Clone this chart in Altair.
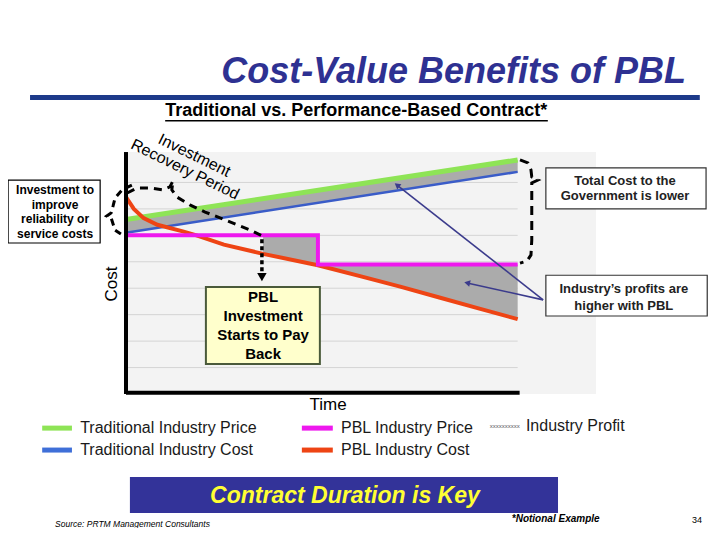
import altair as alt
import pandas as pd

FONT = "Liberation Sans"

# ---------------- data (time units 0..10, cost units 0..9) ----------------
trad_time = [0, 10]
trad_price = [6.6, 8.85]
trad_cost = [6.1, 8.4]

pbl_price_time = [0, 4.9, 4.9, 10]
pbl_price = [6.0, 6.0, 4.9, 4.9]

pbl_cost_time = [0, 0.2, 0.45, 0.8, 1.45, 1.8, 2.5, 3.5, 4.9, 6, 7, 8, 9, 10]
pbl_cost = [7.45, 7.0, 6.65, 6.4, 6.15, 6.0, 5.65, 5.3, 4.87, 4.45, 4.06, 3.65, 3.24, 2.83]

# industry profit band under the PBL contract
band_time = [3.5, 4.9, 4.92, 6, 7, 8, 9, 10]
band_top = [6.0, 6.0, 4.9, 4.9, 4.9, 4.9, 4.9, 4.9]
band_bottom = [5.3, 4.87, 4.86, 4.45, 4.06, 3.65, 3.24, 2.83]

grid_levels = [1, 2, 3, 4, 5, 6, 7, 8]

legend_labels = ["Traditional Industry Price", "Traditional Industry Cost",
                 "PBL Industry Price", "PBL Industry Cost", "Industry Profit"]
legend_colors = ["#8ee456", "#3f6fd8", "#ee18ee", "#ee4414"]

left_box_lines = ["Investment to", "improve", "reliability or", "service costs"]
gov_box_lines = ["Total Cost to the", "Government is lower"]
ind_box_lines = ["Industry\u2019s profits are", "higher with PBL"]
pbl_box_lines = ["PBL", "Investment", "Starts to Pay", "Back"]

# annotation paths (in chart units)
recovery_x = [0.03, 0.28, 0.61, 0.94, 1.12, 1.20, 1.17, 1.30, 1.63, 2.02, 2.40, 2.78, 3.17, 3.47]
recovery_y = [7.60, 7.79, 7.79, 7.72, 7.83, 8.06, 7.72, 7.45, 7.15, 6.88, 6.66, 6.43, 6.20, 5.98]
lbrace_x = [0.15, -0.10, -0.28, -0.33, -0.38, -0.49, -0.38, -0.33, -0.28, -0.13]
lbrace_y = [7.90, 7.72, 7.41, 7.11, 6.85, 6.73, 6.66, 6.43, 6.20, 6.05]
rbrace_x = [10.06, 10.26, 10.34, 10.36, 10.52, 10.36, 10.36, 10.36, 10.34, 10.24, 10.06]
rbrace_y = [8.85, 8.74, 8.47, 8.21, 8.09, 7.98, 7.53, 5.82, 5.26, 5.03, 4.95]

XD = [0, 12]
YD = [0, 9]


def X(f="x", t="Q"):
    return alt.X(f"{f}:{t}", scale=alt.Scale(domain=XD, nice=False, zero=False), axis=None)


def Y(f="y", t="Q"):
    return alt.Y(f"{f}:{t}", scale=alt.Scale(domain=YD, nice=False, zero=False), axis=None)


def X2(f="x2"):
    return alt.X2(f"{f}:Q")


def Y2(f="y2"):
    return alt.Y2(f"{f}:Q")


def series(xs, ys, name):
    return pd.DataFrame({"x": xs, "y": ys, "i": range(len(xs)), "g": name})


def text_layer(rows, size, weight="normal", style="normal", color="black",
               align="center", baseline="middle", angle=0):
    df = pd.DataFrame(rows, columns=["x", "y", "t"])
    return alt.Chart(df).mark_text(
        font=FONT, fontSize=size, fontWeight=weight, fontStyle=style,
        color=color, align=align, baseline=baseline, angle=angle
    ).encode(x=X(), y=Y(), text="t:N")


def box_layer(x1, x2, y1, y2, fill, stroke, sw=1.2):
    df = pd.DataFrame({"x": [x1], "x2": [x2], "y": [y1], "y2": [y2]})
    return alt.Chart(df).mark_rect(fill=fill, stroke=stroke, strokeWidth=sw).encode(
        x=X(), x2=X2(), y=Y(), y2=Y2())


def rule_layer(x1, x2, y1, y2, color, sw, dash=None):
    df = pd.DataFrame({"x": [x1], "x2": [x2], "y": [y1], "y2": [y2]})
    kw = dict(color=color, strokeWidth=sw)
    if dash:
        kw["strokeDash"] = dash
    return alt.Chart(df).mark_rule(**kw).encode(x=X(), x2=X2(), y=Y(), y2=Y2())


def line_layer(df, color, sw, dash=None):
    kw = dict(color=color, strokeWidth=sw)
    if dash:
        kw["strokeDash"] = dash
    return alt.Chart(df).mark_line(**kw).encode(
        x=X(), y=Y(), order="i:Q", detail="g:N")


layers = []

# plot background
layers.append(box_layer(0, 12, 0, 9.15, "#f3f3f3", "#f3f3f3", 0))

# gridlines
grid_df = pd.DataFrame({"y": grid_levels, "x": 0, "x2": 10})
layers.append(alt.Chart(grid_df).mark_rule(color="#d4d4d4", strokeWidth=1).encode(
    x=X(), x2=X2(), y=Y()))

# profit areas
trad_band = pd.DataFrame({"x": trad_time, "y": trad_price, "y2": trad_cost, "g": "trad"})
pbl_band = pd.DataFrame({"x": band_time, "y": band_top, "y2": band_bottom, "g": "pbl"})
layers.append(alt.Chart(pd.concat([trad_band, pbl_band])).mark_area(
    color="#ababab", opacity=1).encode(x=X(), y=Y(), y2=Y2(), detail="g:N"))

# series lines
layers.append(line_layer(series(trad_time, trad_cost, "tc"), "#3a5cc8", 2.5))
layers.append(line_layer(series(trad_time, trad_price, "tp"), legend_colors[0], 5))
layers.append(line_layer(series(pbl_cost_time, pbl_cost, "pc"), legend_colors[3], 4))
layers.append(line_layer(series(pbl_price_time, pbl_price, "pp"), legend_colors[2], 4))

# axes
layers.append(rule_layer(0, 0, 0, 9.15, "black", 4))
layers.append(rule_layer(0, 10.05, 0.05, 0.05, "black", 4))

# dashed annotation braces
layers.append(line_layer(series(recovery_x, recovery_y, "rec"), "black", 3, [8, 6]))
layers.append(line_layer(series(lbrace_x, lbrace_y, "lb"), "black", 3, [7, 5]))
layers.append(line_layer(series(rbrace_x, rbrace_y, "rb"), "black", 3, [9, 6]))

# dotted arrow down to PBL box
layers.append(rule_layer(3.47, 3.47, 5.85, 4.62, "black", 3.5, [4, 3]))
tri_df = pd.DataFrame({"x": [3.47], "y": [4.42]})
layers.append(alt.Chart(tri_df).mark_point(shape="triangle-down", filled=True, size=90,
                                           color="black", opacity=1).encode(x=X(), y=Y()))

# slate arrows from "Industry's profits" box
arrow_df = pd.concat([
    series([10.65, 6.92], [3.56, 7.9], "a1"),
    series([10.65, 8.71], [3.56, 4.2], "a2"),
])
layers.append(line_layer(arrow_df, "#3b3b8c", 1.6))
head_df = pd.DataFrame({"x": [6.92, 8.71], "y": [7.9, 4.2], "a": [308, 283]})
layers.append(alt.Chart(head_df).mark_point(shape="triangle-up", filled=True, size=45,
                                            color="#3b3b8c", opacity=1).encode(
    x=X(), y=Y(), angle=alt.Angle("a:Q", scale=None)))

# boxes
layers.append(box_layer(-3.01, -0.66, 8.09, 5.71, "white", "black", 1.2))
layers.append(box_layer(10.72, 14.81, 8.55, 7.0, "white", "#333333", 1.2))
layers.append(box_layer(10.72, 14.84, 4.49, 2.95, "white", "#333333", 1.2))
layers.append(box_layer(2.04, 4.95, 4.05, 1.13, "#ffffcc", "#4a5a3a", 2))

layers.append(text_layer([(-1.81, yy, t) for yy, t in zip([7.72, 7.15, 6.62, 6.05], left_box_lines)],
                         12, weight="bold"))
layers.append(text_layer([(12.74, yy, t) for yy, t in zip([8.07, 7.48], gov_box_lines)],
                         13, weight="bold", color="#222222"))
layers.append(text_layer([(12.71, yy, t) for yy, t in zip([3.97, 3.34], ind_box_lines)],
                         13, weight="bold", color="#222222"))
layers.append(text_layer([(3.50, yy, t) for yy, t in zip([3.67, 2.95, 2.23, 1.51], pbl_box_lines)],
                         15, weight="bold"))

# rotated recovery label
layers.append(text_layer([(1.69, 8.85, "Investment"), (1.45, 8.32, "Recovery Period")],
                         16, baseline="alphabetic", angle=26))

# axis titles
layers.append(text_layer([(-0.36, 4.16, "Cost")], 17, angle=270))
layers.append(text_layer([(5.16, -0.42, "Time")], 17))

# legend
leg_rules = pd.DataFrame({
    "x": [-2.14, -2.14, 4.49, 4.49], "x2": [-1.38, -1.38, 5.28, 5.28],
    "y": [-1.29, -2.12, -1.29, -2.12], "c": legend_labels[:4]})
layers.append(alt.Chart(leg_rules).mark_rule(strokeWidth=5).encode(
    x=X(), x2=X2(), y=Y(),
    color=alt.Color("c:N", scale=alt.Scale(domain=legend_labels[:4], range=legend_colors), legend=None)))
layers.append(text_layer([(-1.17, -1.29, legend_labels[0]), (-1.17, -2.12, legend_labels[1]),
                          (5.49, -1.29, legend_labels[2]), (5.49, -2.12, legend_labels[3]),
                          (10.21, -1.21, legend_labels[4])],
                         16, color="#1a1a1a", align="left"))
layers.append(text_layer([(9.29, -1.21, "xxxxxxxxxx")], 6, color="#555555", align="left"))

# title block
layers.append(text_layer([(14.30, 12.18, "Cost-Value Benefits of PBL")], 36,
                         weight="bold", style="italic", color="#2e3192", align="right"))
layers.append(rule_layer(-2.45, 14.65, 11.21, 11.21, "#1d3a8a", 5))
layers.append(text_layer([(5.88, 10.70, "Traditional vs. Performance-Based Contract*")], 18,
                         weight="bold"))
layers.append(rule_layer(1.0, 10.77, 10.33, 10.33, "black", 1.5))

# banner
layers.append(box_layer(0.10, 11.03, -3.14, -4.50, "#333399", "#333399", 0))
layers.append(text_layer([(5.59, -3.86, "Contract Duration is Key")], 23,
                         weight="bold", style="italic", color="#ffff33"))

# footers
layers.append(text_layer([(-1.81, -4.92, "Source: PRTM Management Consultants")], 8.5,
                         style="italic", align="left"))
layers.append(text_layer([(9.85, -4.73, "*Notional Example")], 10,
                         weight="bold", style="italic", align="left"))
layers.append(text_layer([(14.45, -4.78, "34")], 9, align="left"))

chart = alt.layer(*layers).properties(
    width=470, height=238,
    padding={"left": 118, "top": 148, "right": 116, "bottom": 134},
    autosize=alt.AutoSizeParams(type="none"),
    background="white",
).configure_view(strokeWidth=0)

chart.save("out.html", embed_options={"renderer": "svg", "actions": False})
